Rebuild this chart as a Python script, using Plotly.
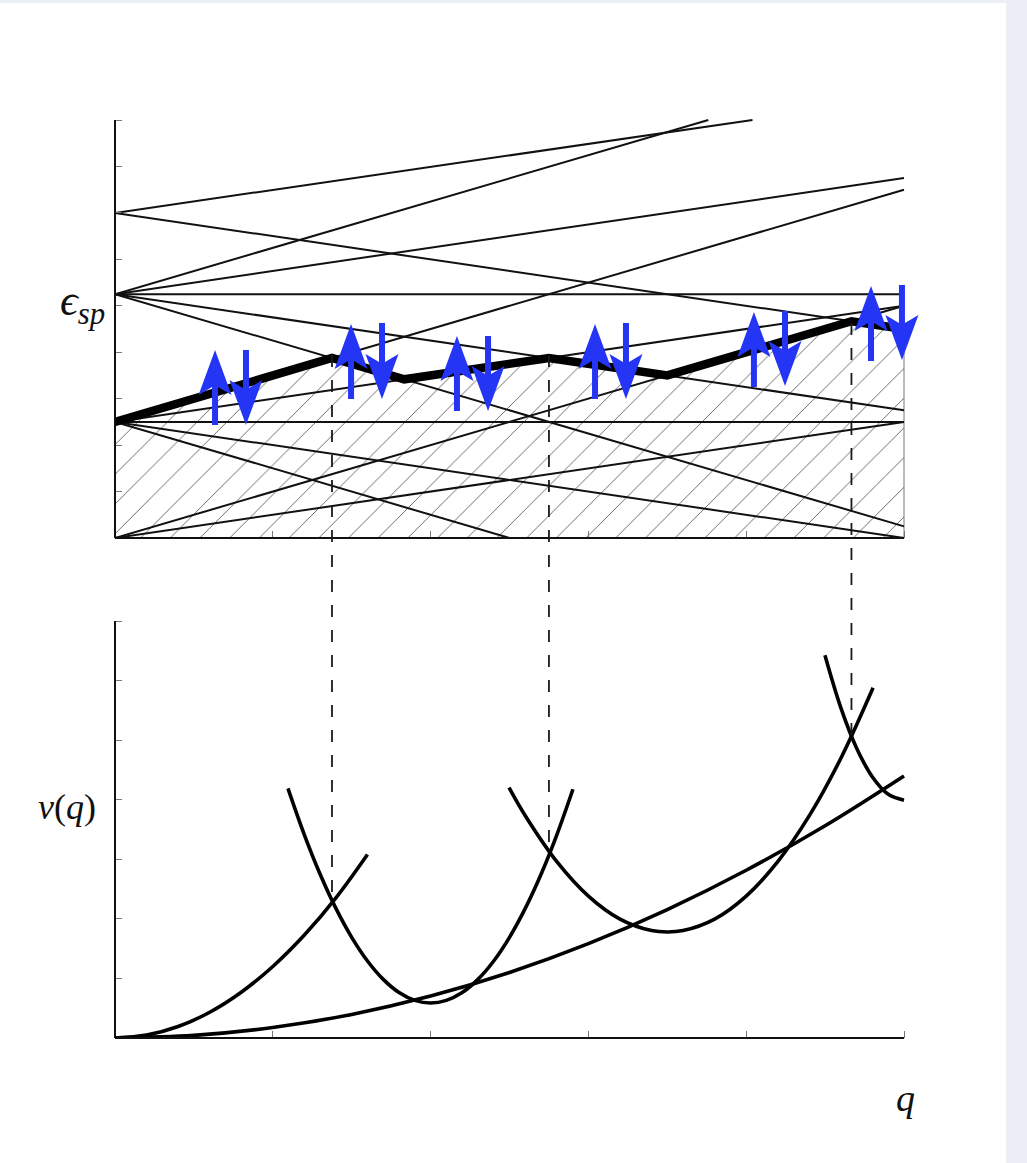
import plotly.graph_objects as go

W, H = 1027, 1163
# Top panel: single-particle levels, each a straight segment (q0, e0) -> (q1, e1)
LEVEL_Q0 = [0, 0, 0, 0, 0, 0, 0, 0, 0, 0, 0, 0, 0, 0, 0]
LEVEL_E0 = [0, 0, 0, 2.5, 2.5, 2.5, 2.5, 2.5, 5.25, 5.25, 5.25, 5.25, 5.25, 7, 7]
LEVEL_Q1 = [5, 5, 5, 2.5, 5, 5, 5, 5, 5, 5, 5, 5, 3.76, 5, 4.04]
LEVEL_E1 = [0, 2.5, 5, 0, 0, 2.5, 5, 7.5, 0.25, 2.75, 5.25, 7.75, 9, 4.5, 9]

# Fermi envelope (thick line and top of hatched area)
ENV_Q = [0, 1.375, 1.833, 2.75, 3.5, 4.667, 5]
ENV_E = [2.5, 3.875, 3.417, 3.875, 3.5, 4.667, 4.5]

# Spin arrows
UP_Q = [0.634, 1.496, 2.167, 3.042, 4.049, 4.791]
UP_TAIL = [2.433, 2.993, 2.735, 2.993, 3.251, 3.811]
UP_TIP = [4.048, 4.608, 4.35, 4.608, 4.866, 5.426]
DOWN_Q = [0.83, 1.692, 2.364, 3.238, 4.246, 4.987]
DOWN_TAIL = [4.048, 4.63, 4.35, 4.63, 4.888, 5.448]
DOWN_TIP = [2.433, 2.993, 2.735, 2.993, 3.273, 3.833]

# Bottom panel curves
A_Q = [0, 0.5, 1, 1.5, 2, 2.5, 3, 3.5, 4, 4.5, 5]
A_V = [0, 0.044, 0.176, 0.396, 0.704, 1.1, 1.584, 2.156, 2.816, 3.564, 4.4]
B_Q = [0, 0.2, 0.4, 0.6, 0.8, 1.0, 1.2, 1.4, 1.6]
B_V = [0, 0.048, 0.192, 0.432, 0.768, 1.2, 1.728, 2.352, 3.08]
C_Q = [1.096, 1.2, 1.3, 1.4, 1.5, 1.6, 1.7, 1.8, 1.9, 2.0, 2.1, 2.2, 2.3, 2.4, 2.5, 2.6, 2.7, 2.8, 2.902]
C_V = [4.19, 3.41, 2.748, 2.175, 1.69, 1.293, 0.984, 0.763, 0.631, 0.587, 0.631, 0.763, 0.984, 1.293, 1.69, 2.175, 2.748, 3.41, 4.175]
D_Q = [2.497, 2.6, 2.8, 3.0, 3.2, 3.4, 3.5, 3.6, 3.8, 4.0, 4.2, 4.4, 4.6, 4.804]
D_V = [4.204, 3.732, 2.961, 2.383, 1.997, 1.804, 1.78, 1.804, 1.997, 2.383, 2.961, 3.732, 4.696, 5.878]
E_Q = [4.499, 4.6, 4.7, 4.8, 4.9, 5]
E_V = [6.426, 5.543, 4.865, 4.381, 4.09, 3.993]

# Dashed guides: q, top-panel energy where they start, bottom-panel v where they end
GUIDE_Q = [1.375, 2.75, 4.667]
GUIDE_E = [3.94, 3.94, 4.63]
GUIDE_V = [2.28, 3.12, 5.07]

X_TICKS = [0, 1, 2, 3, 4, 5]
E_TICKS = [0, 1, 2, 3, 4, 5, 6, 7, 8, 9]
V_TICKS = [0, 1, 2, 3, 4, 5, 6, 7]

# Layout geometry (pixels on the page)
LEFT, RIGHT = 115, 904
TOP1, BOT1 = 120, 538
TOP2, BOT2 = 621, 1038
PX_Q = (RIGHT - LEFT) / 5
PX_E = (BOT1 - TOP1) / 9
PX_V = (BOT2 - TOP2) / 7
PAD = 2  # the axes run a little past the last tick, so that it is drawn

BLUE = "#2435f5"
INK = "#111111"

def v_to_e(v):
    return (BOT1 - (BOT2 - v * PX_V)) / PX_E

fig = go.Figure()

# Hatched region
fig.add_trace(go.Scatter(
    x=ENV_Q + [5, 0], y=ENV_E + [0, 0], xaxis="x", yaxis="y", mode="lines",
    fill="toself", fillcolor="rgba(0,0,0,0)",
    fillpattern=dict(shape="/", size=21, solidity=0.045, fgcolor="#666666", fgopacity=1,
                     bgcolor="rgba(0,0,0,0)"),
    line=dict(color="#777777", width=1), hoverinfo="skip", showlegend=False))

for q0, e0, q1, e1 in zip(LEVEL_Q0, LEVEL_E0, LEVEL_Q1, LEVEL_E1):
    fig.add_trace(go.Scatter(x=[q0, q1], y=[e0, e1], xaxis="x", yaxis="y", mode="lines",
                             line=dict(color=INK, width=2), showlegend=False))

fig.add_trace(go.Scatter(x=ENV_Q, y=ENV_E, xaxis="x", yaxis="y", mode="lines",
                         line=dict(color="#000000", width=8.5), showlegend=False))

for qs, vs in [(A_Q, A_V), (B_Q, B_V), (C_Q, C_V), (D_Q, D_V), (E_Q, E_V)]:
    fig.add_trace(go.Scatter(x=qs, y=vs, xaxis="x2", yaxis="y2", mode="lines",
                             line=dict(color="#000000", width=3.6, shape="spline", smoothing=1),
                             showlegend=False))

# Overlay axes spanning the whole page, on the scales of the top panel
# Spines of both panels, centred on the zero of each axis
for xs, es in [([0, 0], [0, 9]), ([0, 5], [0, 0]),
               ([0, 0], [v_to_e(0), v_to_e(7)]), ([0, 5], [v_to_e(0), v_to_e(0)])]:
    fig.add_trace(go.Scatter(x=xs, y=es, xaxis="x3", yaxis="y3", mode="lines",
                             line=dict(color=INK, width=2), showlegend=False))

for q, e, v in zip(GUIDE_Q, GUIDE_E, GUIDE_V):
    fig.add_trace(go.Scatter(x=[q, q], y=[e, v_to_e(v)], xaxis="x3", yaxis="y3", mode="lines",
                             line=dict(color="#1a1a1a", width=1.8, dash="12px,13px"), showlegend=False))

HEAD_W = 16.5 / PX_Q
SHAFT_W = 3 / PX_Q
HEAD_L = 45 / PX_E
NOTCH_L = 37 / PX_E

def arrow(q, tail, tip):
    d = 1 if tip > tail else -1
    return ([q - SHAFT_W, q - SHAFT_W, q - HEAD_W, q, q + HEAD_W, q + SHAFT_W, q + SHAFT_W, q - SHAFT_W],
            [tail, tip - d * NOTCH_L, tip - d * HEAD_L, tip, tip - d * HEAD_L, tip - d * NOTCH_L, tail, tail])

for q, tail, tip in list(zip(UP_Q, UP_TAIL, UP_TIP)) + list(zip(DOWN_Q, DOWN_TAIL, DOWN_TIP)):
    xs, ys = arrow(q, tail, tip)
    fig.add_trace(go.Scatter(x=xs, y=ys, xaxis="x3", yaxis="y3", mode="lines", fill="toself",
                             fillcolor=BLUE, line=dict(color=BLUE, width=0), showlegend=False))

axis = dict(showgrid=False, zeroline=False, showticklabels=False, ticks="inside", ticklen=7,
            tickwidth=1.4, tickcolor="#777777", showline=False)
x_dom = [LEFT / W, (RIGHT + PAD) / W]
x_rng = [0, 5 + PAD / PX_Q]

LABEL_FONT = "Liberation Serif"
fig.update_layout(
    width=W, height=H, margin=dict(l=0, r=0, t=0, b=0), showlegend=False, hovermode=False,
    paper_bgcolor="#ebeef5", plot_bgcolor="rgba(0,0,0,0)",
    xaxis=dict(axis, domain=x_dom, range=x_rng, tickvals=X_TICKS, anchor="y"),
    yaxis=dict(axis, domain=[(H - BOT1) / H, (H - TOP1 + PAD) / H], range=[0, 9 + PAD / PX_E],
               tickvals=E_TICKS, anchor="x"),
    xaxis2=dict(axis, domain=x_dom, range=x_rng, tickvals=X_TICKS, anchor="y2"),
    yaxis2=dict(axis, domain=[(H - BOT2) / H, (H - TOP2 + PAD) / H], range=[0, 7 + PAD / PX_V],
                tickvals=V_TICKS, anchor="x2"),
    xaxis3=dict(visible=False, domain=[0, 1], range=[-LEFT / PX_Q, (W - LEFT) / PX_Q], anchor="y3"),
    yaxis3=dict(visible=False, domain=[0, 1], range=[(BOT1 - H) / PX_E, BOT1 / PX_E], anchor="x3"),
    shapes=[dict(type="rect", xref="paper", yref="paper", x0=0, x1=1006 / W, y0=0, y1=(H - 3) / H,
                 fillcolor="#ffffff", line=dict(width=0), layer="below")],
    annotations=[
        dict(text="<i>ϵ<sub>sp</sub></i>", xref="paper", yref="paper", x=82 / W, y=(H - 303) / H,
             xanchor="center", yanchor="middle", showarrow=False,
             font=dict(family=LABEL_FONT, size=44, color="#111111")),
        dict(text="<i>v</i>(<i>q</i>)", xref="paper", yref="paper", x=67 / W, y=(H - 807) / H,
             xanchor="center", yanchor="middle", showarrow=False,
             font=dict(family=LABEL_FONT, size=36, color="#111111")),
        dict(text="<i>q</i>", xref="paper", yref="paper", x=905 / W, y=(H - 1098) / H,
             xanchor="center", yanchor="middle", showarrow=False,
             font=dict(family=LABEL_FONT, size=38, color="#111111")),
    ],
)

fig.write_html("out.html", default_width=f"{W}px", default_height=f"{H}px",
               config=dict(displayModeBar=False),
               post_script="document.body.style.margin='0';document.body.style.overflow='hidden';")
